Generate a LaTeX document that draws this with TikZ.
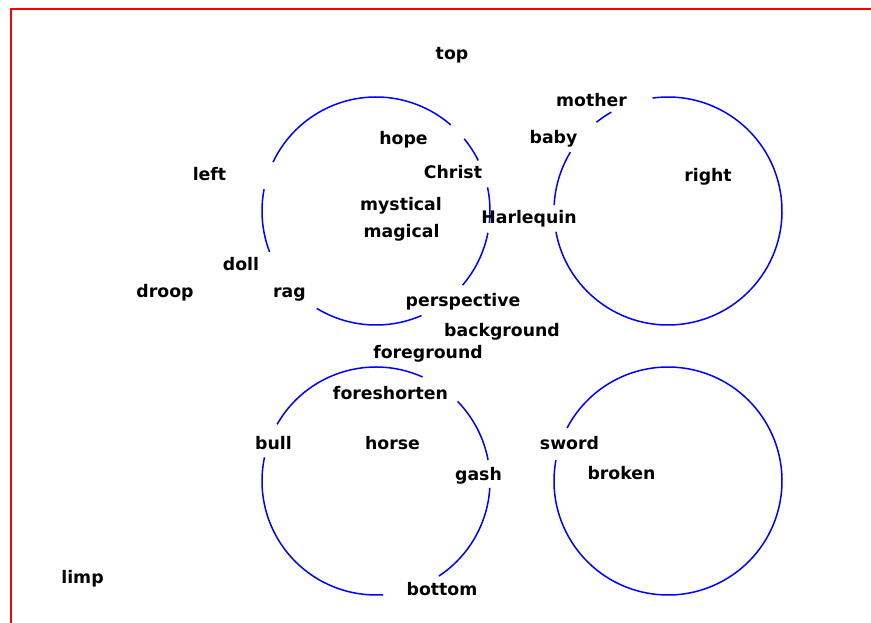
\documentclass[tikz,border=0pt]{standalone}
\usepackage{fontspec}
\setmainfont{DejaVu Sans}
\tikzset{
  lbl/.style={anchor=base, inner sep=0pt, font=\fontsize{17.3}{20}\selectfont\bfseries},
  circ/.style={draw={rgb,255:red,0;green,0;blue,255}, line width=1.5pt},
  frame/.style={draw={rgb,255:red,255;green,0;blue,0}, line width=1.5pt}
}
\newcommand\carc[3]{\draw[circ] (#1) ++({-(#2)}:114) arc[start angle={-(#2)}, end angle={-(#3)}, radius=114];}
\begin{document}
\begin{tikzpicture}[x=1pt,y=-1pt]
\useasboundingbox[fill=white] (0,0) rectangle (871,623);
\draw[frame] (880,9) -- (11,9) -- (11,630);
\coordinate (c1) at (376,211);
\coordinate (c2) at (668,211);
\coordinate (c3) at (376,481);
\coordinate (c4) at (668,481);
% top-left circle
\carc{c1}{49}{154.6}
\carc{c1}{26.3}{39.3}
\carc{c1}{-6}{12}
\carc{c1}{-40.6}{-11}
\carc{c1}{238.7}{293.5}
\carc{c1}{169}{201}
% top-right circle
\carc{c2}{190.5}{457.8}
\carc{c2}{148.9}{177}
\carc{c2}{119.8}{128.9}
% bottom-left circle
\carc{c3}{65.9}{150.2}
\carc{c3}{10.6}{44.3}
\carc{c3}{-56.5}{-3.5}
\carc{c3}{168}{273.6}
% bottom-right circle
\carc{c4}{169.5}{512.3}
% labels
\node[lbl] (top) at (452,60) {top};
\node[lbl] (mother) at (591.5,107) {mother};
\node[lbl] (baby) at (553.5,144) {baby};
\node[lbl] (hope) at (403.5,145) {hope};
\node[lbl] (christ) at (453,179) {Christ};
\node[lbl] (left) at (209.5,181) {left};
\node[lbl] (right) at (708,182) {right};
\node[lbl] (mystical) at (401,211) {mystical};
\node[lbl] (magical) at (401.5,237) {magical};
\node[lbl] (harlequin) at (529,224) {Harlequin};
\node[lbl] (doll) at (241,270.5) {doll};
\node[lbl] (droop) at (165,297) {droop};
\node[lbl] (rag) at (289.5,297) {rag};
\node[lbl] (perspective) at (463,306) {perspective};
\node[lbl] (background) at (502,336) {background};
\node[lbl] (foreground) at (428,358) {foreground};
\node[lbl] (foreshorten) at (390.5,399) {foreshorten};
\node[lbl] (bull) at (273.5,449) {bull};
\node[lbl] (horse) at (392.5,449) {horse};
\node[lbl] (sword) at (569.5,449) {sword};
\node[lbl] (gash) at (478.5,480) {gash};
\node[lbl] (broken) at (621.5,479) {broken};
\node[lbl] (limp) at (82.5,583) {limp};
\node[lbl] (bottom) at (442,595) {bottom};
\end{tikzpicture}
\end{document}
